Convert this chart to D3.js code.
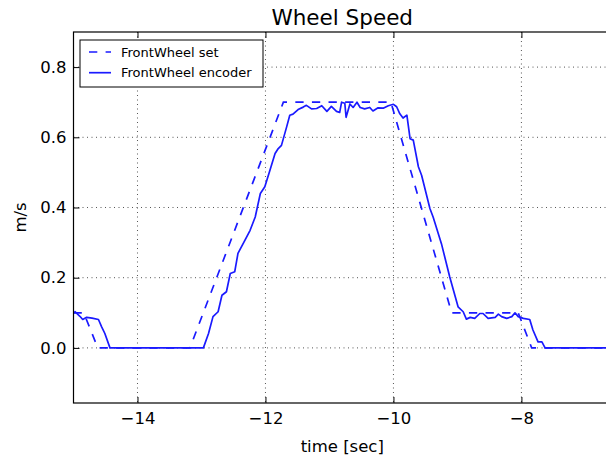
<!DOCTYPE html>
<html>
<head>
<meta charset="utf-8">
<script src="https://cdn.jsdelivr.net/npm/d3@7"></script>
<style>
  body { margin: 0; background: #fff; }
  svg { display: block; font-family: "DejaVu Sans", sans-serif; }
</style>
</head>
<body>
<svg id="chart" width="606" height="455"></svg>
<script>
// set speed (dashed)
const setTime  = [-15, -14.84, -14.62, -13.18, -11.72, -10.04, -9.09, -8.05, -7.84, -6.6];
const setSpeed = [0.1, 0.1, 0, 0, 0.7, 0.7, 0.1, 0.1, 0, 0];

// encoder speed (solid)
const encTime = [-15, -14.977, -14.90, -14.856, -14.794, -14.71, -14.61, -14.56, -14.51, -14.43,
  -12.97, -12.89, -12.82, -12.74, -12.68, -12.61, -12.55, -12.48, -12.43, -12.32,
  -12.24, -12.16, -12.08, -12.01, -11.93, -11.85, -11.80, -11.75, -11.67, -11.62,
  -11.57, -11.49, -11.41, -11.36, -11.28, -11.20, -11.12, -11.04, -10.97, -10.89,
  -10.84, -10.81, -10.76, -10.74, -10.68, -10.63, -10.57, -10.52, -10.45, -10.37,
  -10.32, -10.24, -10.16, -10.08, -10.00, -9.95, -9.90, -9.85, -9.79, -9.74,
  -9.69, -9.61, -9.56, -9.43, -9.38, -9.25, -9.12, -8.99, -8.91, -8.86,
  -8.80, -8.73, -8.65, -8.60, -8.52, -8.41, -8.36, -8.31, -8.23, -8.15,
  -8.10, -8.05, -7.97, -7.87, -7.82, -7.74, -7.68, -7.63, -6.6];
const encSpeed = [0.099, 0.103, 0.090, 0.081, 0.087, 0.085, 0.081, 0.060, 0.041, 0,
  0, 0.041, 0.089, 0.103, 0.150, 0.160, 0.212, 0.217, 0.269, 0.307,
  0.335, 0.373, 0.440, 0.459, 0.506, 0.554, 0.568, 0.577, 0.629, 0.663,
  0.666, 0.679, 0.686, 0.691, 0.681, 0.682, 0.690, 0.674, 0.688, 0.674,
  0.671, 0.700, 0.697, 0.657, 0.695, 0.685, 0.700, 0.685, 0.681, 0.685,
  0.675, 0.684, 0.683, 0.690, 0.694, 0.687, 0.667, 0.655, 0.663, 0.596,
  0.592, 0.516, 0.492, 0.397, 0.373, 0.297, 0.202, 0.117, 0.103, 0.082,
  0.087, 0.084, 0.098, 0.098, 0.084, 0.087, 0.096, 0.089, 0.084, 0.089,
  0.100, 0.089, 0.084, 0.081, 0.051, 0.017, 0.017, 0, 0];

const xTicks = [-14, -12, -10, -8];
const yTicks = [0, 0.2, 0.4, 0.6, 0.8];
const legendLabels = ["FrontWheel set", "FrontWheel encoder"];

const margin = { top: 32, left: 73.5, bottom: 403 };
const plotRight = 611;

const svg = d3.select("#chart");

const xScale = d3.scaleLinear().domain([-15, -6.6]).range([margin.left, plotRight]);
const yScale = d3.scaleLinear().domain([-0.157, 0.9]).range([margin.bottom, margin.top]);

svg.append("clipPath").attr("id", "clip")
  .append("rect")
  .attr("x", margin.left).attr("y", margin.top)
  .attr("width", plotRight - margin.left).attr("height", margin.bottom - margin.top);

// grid
const grid = svg.append("g").attr("class", "grid");
grid.selectAll("line.gx").data(xTicks).enter().append("line")
  .attr("x1", d => xScale(d)).attr("x2", d => xScale(d))
  .attr("y1", margin.top).attr("y2", margin.bottom);
grid.selectAll("line.gy").data(yTicks).enter().append("line")
  .attr("y1", d => yScale(d)).attr("y2", d => yScale(d))
  .attr("x1", margin.left).attr("x2", plotRight);
grid.selectAll("line")
  .style("stroke", "#555").style("stroke-width", 1)
  .style("stroke-dasharray", "1,3.5");

// lines
const setLine = d3.line().x((d, i) => xScale(setTime[i])).y(d => yScale(d));
const encLine = d3.line().x((d, i) => xScale(encTime[i])).y(d => yScale(d));

const lines = svg.append("g").attr("clip-path", "url(#clip)");
lines.append("path")
  .datum(setSpeed)
  .attr("d", setLine)
  .style("fill", "none").style("stroke", "#1a1aff")
  .style("stroke-width", 1.7).style("stroke-dasharray", "8.3,8.3");
lines.append("path")
  .datum(encSpeed)
  .attr("d", encLine)
  .style("fill", "none").style("stroke", "#1a1aff")
  .style("stroke-width", 1.7).style("stroke-linejoin", "round");

// axes (ticks inward)
const fmtX = d3.format("d");
const fmtY = d3.format(".1f");

const xAxis = svg.append("g")
  .attr("transform", `translate(0,${margin.bottom})`)
  .call(d3.axisBottom(xScale).tickValues(xTicks).tickFormat(fmtX)
    .tickSizeInner(-6).tickSizeOuter(0).tickPadding(9));
const xAxisTop = svg.append("g")
  .attr("transform", `translate(0,${margin.top})`)
  .call(d3.axisTop(xScale).tickValues(xTicks).tickFormat("")
    .tickSizeInner(-6).tickSizeOuter(0));
const yAxis = svg.append("g")
  .attr("transform", `translate(${margin.left},0)`)
  .call(d3.axisLeft(yScale).tickValues(yTicks).tickFormat(fmtY)
    .tickSizeInner(-6).tickSizeOuter(0).tickPadding(7));

[xAxis, xAxisTop, yAxis].forEach(a => {
  a.select(".domain").remove();
  a.selectAll(".tick line").style("stroke", "#000").style("stroke-width", 1);
  a.selectAll(".tick text").style("font-size", "16.5px").style("fill", "#000")
    .style("font-family", "DejaVu Sans");
});

// frame
svg.append("rect")
  .attr("x", margin.left).attr("y", margin.top)
  .attr("width", plotRight - margin.left).attr("height", margin.bottom - margin.top)
  .style("fill", "none").style("stroke", "#000").style("stroke-width", 1.2);

// title and labels
const cx = (margin.left + plotRight) / 2;
svg.append("text")
  .attr("x", cx).attr("y", 25)
  .style("text-anchor", "middle").style("font-size", "21.5px")
  .text("Wheel Speed");

svg.append("text")
  .attr("x", cx).attr("y", 452)
  .style("text-anchor", "middle").style("font-size", "16.5px")
  .text("time [sec]");

svg.append("text")
  .attr("transform", `translate(26,${(margin.top + margin.bottom) / 2}) rotate(-90)`)
  .style("text-anchor", "middle").style("font-size", "16.5px")
  .text("m/s");

// legend
const legend = svg.append("g").attr("class", "legend");
legend.append("rect")
  .attr("x", 80).attr("y", 40).attr("width", 183).attr("height", 47)
  .style("fill", "#fff").style("stroke", "#000").style("stroke-width", 1);

const legendItems = legend.selectAll("g.item")
  .data(legendLabels)
  .enter().append("g")
  .attr("transform", (d, i) => `translate(0,${52 + i * 20.7})`);

legendItems.append("line")
  .attr("x1", 89).attr("x2", 111).attr("y1", 0).attr("y2", 0)
  .style("stroke", "#1a1aff").style("stroke-width", 1.7)
  .style("stroke-dasharray", (d, i) => i === 0 ? "8.3,8.3" : null);

legendItems.append("text")
  .attr("x", 121).attr("y", 0).attr("dy", "0.35em")
  .style("font-size", "13px")
  .text(d => d);
</script>
</body>
</html>
